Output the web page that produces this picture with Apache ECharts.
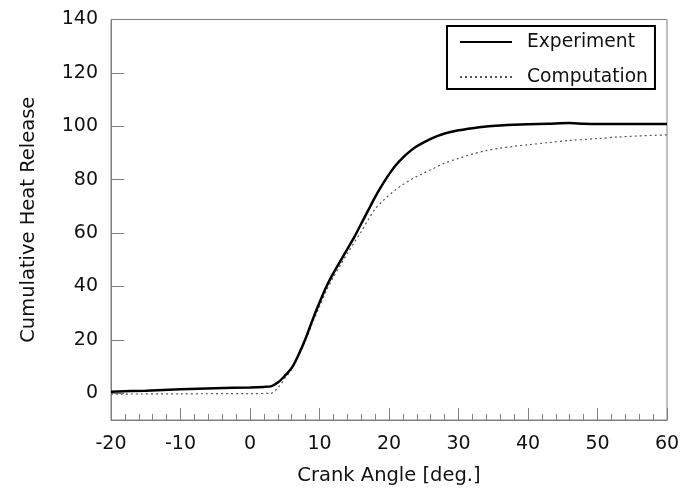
<!DOCTYPE html>
<html>
<head>
<meta charset="utf-8">
<script src="https://cdn.jsdelivr.net/npm/echarts@6/dist/echarts.min.js"></script>
<style>
html,body{margin:0;padding:0;background:#fff;}
#chart{width:684px;height:491px;}
</style>
</head>
<body>
<div id="chart"></div>
<script>
var expX = [-20,-15,-10,-5,0,2,3,4,5,6,7,8,9,10,11,12,13,14,15,16,17,18,19,20,21,22,23,24,25,26,27,28,30,32,34,36,38,40,43,46,48,50,55,60];
var expY = [0.6,1.0,1.5,1.9,2.2,2.4,2.6,4,6.5,9.5,14.5,20.5,27.5,34,40,45,49.5,54,58.5,63.5,68.5,73.5,78,82,85.5,88.3,90.6,92.5,94,95.3,96.4,97.3,98.5,99.3,99.9,100.3,100.6,100.8,101,101.2,101,100.9,100.9,100.9];
var compX = [-20,-10,0,3,4,5,6,7,8,9,10,11,12,13,14,15,16,17,18,19,20,21,22,23,24,25,26,28,30,32,34,36,38,40,43,46,50,53,56,60];
var compY = [-0.3,-0.2,-0.1,0,2,5.5,9,14,20,26.5,32.5,38.5,43.5,48,52.3,56.5,60.5,65,69,71.8,74.2,76.3,78.2,79.8,81.2,82.5,83.7,86.2,88,89.6,90.9,91.8,92.5,93.1,93.9,94.7,95.4,96,96.4,96.8];
var yTicks = [0,20,40,60,80,100,120,140];
var seriesNames = ['Experiment','Computation'];

function pairs(xs, ys){ var o=[]; for(var i=0;i<xs.length;i++) o.push([xs[i], ys[i]]); return o; }

var chart = echarts.init(document.getElementById('chart'), null, {renderer:'canvas'});
var font = 'DejaVu Sans, Liberation Sans, sans-serif';
chart.setOption({
  animation:false,
  backgroundColor:'#fff',
  textStyle:{fontFamily:font},
  grid:{left:111, right:17, top:19.5, bottom:70.3, show:true, borderColor:'#808080', borderWidth:1},
  legend:{
    orient:'vertical', left:447, top:26,
    data:seriesNames,
    backgroundColor:'#fff', borderColor:'#000', borderWidth:2, borderRadius:0,
    padding:[5,7,1,12], itemGap:13, itemWidth:52, itemHeight:22,
    itemStyle:{opacity:0},
    textStyle:{fontSize:18.7, lineHeight:22, color:'#111', fontFamily:font, padding:[0,0,0,10]}
  },
  xAxis:{
    type:'value', min:-20, max:60, interval:10,
    name:'Crank Angle [deg.]', nameLocation:'middle', nameGap:46,
    nameTextStyle:{fontSize:19.5, color:'#111', fontFamily:font},
    axisLine:{onZero:false, lineStyle:{color:'#808080', width:1}},
    axisTick:{inside:true, length:12, lineStyle:{color:'#808080'}},
    minorTick:{show:true, splitNumber:5, length:6, lineStyle:{color:'#808080'}},
    axisLabel:{fontSize:19, color:'#111', margin:15, fontFamily:font},
    splitLine:{show:false}, minorSplitLine:{show:false}
  },
  yAxis:{
    type:'value', min:-10, max:140,
    name:'Cumulative Heat Release', nameLocation:'middle', nameGap:72, nameRotate:90,
    nameTextStyle:{fontSize:19.5, color:'#111', fontFamily:font},
    axisLine:{onZero:false, lineStyle:{color:'#808080', width:1}},
    axisTick:{inside:true, length:13, customValues:yTicks.slice(0,7), lineStyle:{color:'#808080'}},
    axisLabel:{fontSize:19, color:'#111', margin:13, customValues:yTicks, fontFamily:font},
    splitLine:{show:false}
  },
  series:[
    {name:seriesNames[0], type:'line', data:pairs(expX,expY), symbol:'none', smooth:0.3, z:3,
     lineStyle:{color:'#000', width:2.5}, itemStyle:{color:'#000'}},
    {name:seriesNames[1], type:'line', data:pairs(compX,compY), symbol:'none', smooth:0.3, z:2,
     lineStyle:{color:'#555', width:1.2, type:[2,3]}, itemStyle:{color:'#555'}}
  ]
});
</script>
</body>
</html>
